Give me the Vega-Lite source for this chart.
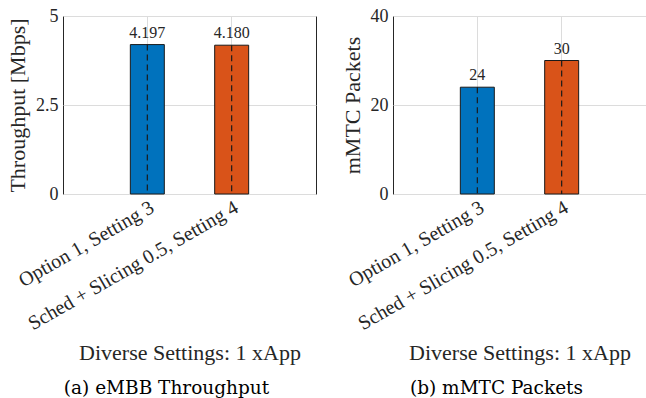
{
  "$schema": "https://vega.github.io/schema/vega-lite/v6.json",
  "background": "white",
  "padding": {"left": 6, "top": 6, "right": 0, "bottom": 0},
  "spacing": 77,
  "bounds": "flush",
  "config": {
    "font": "Liberation Serif",
    "view": {"stroke": "#262626", "strokeWidth": 1},
    "axis": {
      "domain": false,
      "ticks": false,
      "gridColor": "#dcdcdc",
      "gridWidth": 1,
      "labelFont": "Liberation Serif",
      "titleFont": "Liberation Serif",
      "labelColor": "#262626",
      "titleColor": "#262626",
      "labelFontSize": 18,
      "titleFontSize": 22,
      "titleFontWeight": "normal"
    },
    "axisX": {"labelAngle": -30, "labelAlign": "right", "labelBaseline": "top", "labelPadding": 3, "labelFontSize": 20, "labelLimit": 0, "titleY": 165, "titleBaseline": "alphabetic"},
    "axisY": {"labelPadding": 5, "titlePadding": 6},
    "title": {"font": "DejaVu Serif", "fontSize": 18.5, "fontWeight": "normal", "color": "#000000", "orient": "bottom", "dx": -23, "offset": 16}
  },
  "hconcat": [
    {
      "width": 253,
      "height": 178,
      "title": {"text": "(a) eMBB Throughput"},
      "data": {"values": [
        {"config": "Option 1, Setting 3", "value": 4.197, "label": "4.197"},
        {"config": "Sched + Slicing 0.5, Setting 4", "value": 4.180, "label": "4.180"}
      ]},
      "encoding": {
        "x": {"field": "config", "type": "nominal", "sort": null,
              "scale": {"paddingInner": 0.597, "paddingOuter": 0.7985},
              "axis": {"title": "Diverse Settings: 1 xApp", "grid": true}}
      },
      "layer": [
        {"mark": {"type": "bar", "stroke": "#1a1a1a", "strokeWidth": 1},
         "encoding": {
           "y": {"field": "value", "type": "quantitative", "scale": {"domain": [0, 5]},
                 "axis": {"values": [0, 2.5, 5], "labelExpr": "'' + datum.value", "title": "Throughput [Mbps]"}},
           "color": {"field": "config", "type": "nominal", "sort": null, "scale": {"range": ["#0072BD", "#D95319"]}, "legend": null}
         }},
        {"mark": {"type": "rule", "strokeDash": [6, 4], "color": "#1a1a1a", "strokeWidth": 1.2},
         "encoding": {"y": {"field": "value", "type": "quantitative"}, "y2": {"datum": 0}}},
        {"mark": {"type": "text", "baseline": "bottom", "dy": -4, "fontSize": 16, "color": "#262626"},
         "encoding": {"y": {"field": "value", "type": "quantitative"}, "text": {"field": "label", "type": "nominal"}}}
      ]
    },
    {
      "width": 253,
      "height": 178,
      "title": {"text": "(b) mMTC Packets"},
      "data": {"values": [
        {"config": "Option 1, Setting 3", "value": 24, "label": "24"},
        {"config": "Sched + Slicing 0.5, Setting 4", "value": 30, "label": "30"}
      ]},
      "encoding": {
        "x": {"field": "config", "type": "nominal", "sort": null,
              "scale": {"paddingInner": 0.597, "paddingOuter": 0.7985},
              "axis": {"title": "Diverse Settings: 1 xApp", "grid": true}}
      },
      "layer": [
        {"mark": {"type": "bar", "stroke": "#1a1a1a", "strokeWidth": 1},
         "encoding": {
           "y": {"field": "value", "type": "quantitative", "scale": {"domain": [0, 40]},
                 "axis": {"values": [0, 20, 40], "title": "mMTC Packets"}},
           "color": {"field": "config", "type": "nominal", "sort": null, "scale": {"range": ["#0072BD", "#D95319"]}, "legend": null}
         }},
        {"mark": {"type": "rule", "strokeDash": [6, 4], "color": "#1a1a1a", "strokeWidth": 1.2},
         "encoding": {"y": {"field": "value", "type": "quantitative"}, "y2": {"datum": 0}}},
        {"mark": {"type": "text", "baseline": "bottom", "dy": -4, "fontSize": 16, "color": "#262626"},
         "encoding": {"y": {"field": "value", "type": "quantitative"}, "text": {"field": "label", "type": "nominal"}}}
      ]
    }
  ]
}
